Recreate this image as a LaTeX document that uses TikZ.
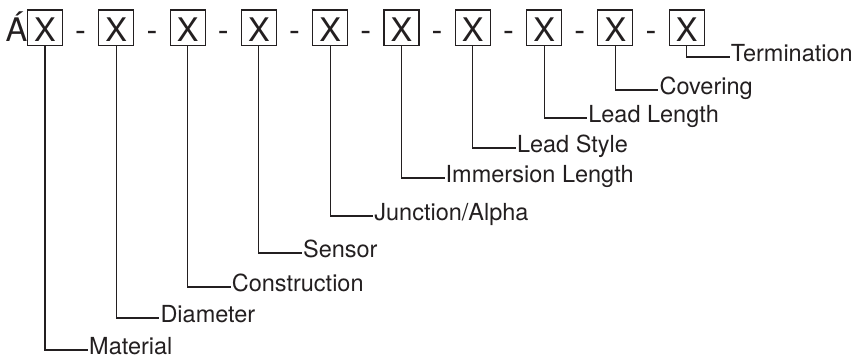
\documentclass[tikz,border=0pt]{standalone}
\usepackage{fontspec}
\setmainfont{TeX Gyre Heros}
\usepackage{tikz}
\usetikzlibrary{positioning}
\definecolor{ink}{HTML}{231F20}
\tikzset{
	xbox/.style={draw=ink, line width=1.1pt, minimum width=35pt, minimum height=35.7pt, inner sep=0pt, text height=27.7pt, text depth=0pt, font=\fontsize{32.5}{38}\selectfont},
	sep/.style={anchor=base, inner sep=0pt, font=\fontsize{32.5}{38}\selectfont},
	lab/.style={anchor=west, inner sep=1pt, text height=9pt, text depth=0pt, font=\fontsize{23.5}{28}\selectfont},
	lead/.style={draw=ink, line width=1.1pt}
}

\begin{document}
\begin{tikzpicture}[x=1pt,y=-1pt,text=ink]
	\useasboundingbox (0,0) rectangle (854,360);
	\node[sep, anchor=base east] (acc) at (27.5,41.7) {Á};
	\foreach \i/\ly/\txt in {1/350/Material, 2/318/Diameter, 3/287/Construction, 4/253/Sensor, 5/216/Junction\slash Alpha, 6/178/Immersion Length, 7/148/Lead Style, 8/118/Lead Length, 9/90/Covering, 10/57/Termination} {
		\node[xbox] (b\i) at ({45+71.3*(\i-1)},27.85) {X};
		\node[lab] (l\i) at ({88+71.3*(\i-1)},\ly) {\txt};
		\draw[lead] (b\i.south) |- (l\i.west);
	}
	\foreach \i in {1,...,9}
		\node[sep] (d\i) at ({80.65+71.3*(\i-1)},41.7) {-};
\end{tikzpicture}
\end{document}
